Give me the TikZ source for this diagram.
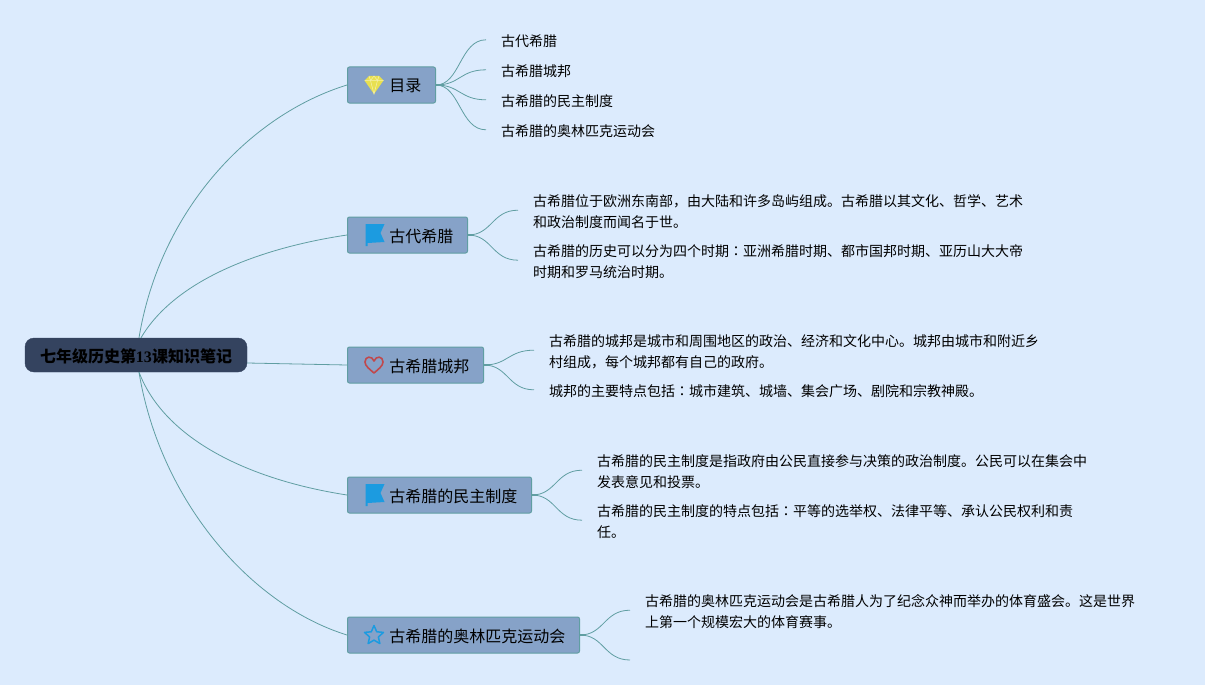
\documentclass[tikz,border=0pt]{standalone}
\usepackage{fontspec}
\setmainfont{Noto Sans CJK SC}
\newfontfamily\digitfont{Liberation Serif}
\newfontfamily\colonfont{Noto Sans CJK TC}
\newcommand{\midcolon}{{\colonfont ：}}
\usetikzlibrary{calc}
\definecolor{figBg}{RGB}{220,235,253}
\definecolor{figBox}{RGB}{134,162,200}
\definecolor{figEdge}{RGB}{96,158,162}
\definecolor{figRoot}{RGB}{52,67,95}
\definecolor{figFlag}{RGB}{28,155,224}
\definecolor{figGem}{RGB}{232,224,80}
\definecolor{figHeart}{RGB}{192,72,76}
\tikzset{
  rootbox/.style={draw=figRoot, fill=figRoot, rounded corners=9pt, minimum width=222pt, minimum height=34pt,
    inner sep=0pt, text height=16pt, text depth=2pt, font=\fontsize{16}{16}\selectfont\bfseries},
  catbox/.style={draw=figEdge, line width=1pt, fill=figBox, rounded corners=2pt, minimum height=36pt, anchor=west,
    inner xsep=14.2pt, inner ysep=0pt, text height=16pt, text depth=2pt, font=\fontsize{16}{16}\selectfont,
    execute at begin node={\hspace*{27.6pt}}},
  leaf/.style={anchor=west, inner xsep=15pt, inner ysep=0pt, align=left, font=\fontsize{14}{21}\selectfont},
  wire/.style={figEdge, line width=0.8pt},
  stub/.style={figEdge, line width=1.5pt},
  pics/gem/.style={code={
    \fill[figGem] (-9.5,-5) -- (-5,-9.5) -- (5,-9.5) -- (9.5,-5) -- (0,8.5) -- cycle;
    \draw[white!55!figGem, line width=0.5pt] (-9.5,-5) -- (9.5,-5) (-5,-9.5) -- (-3.5,-5) -- (0,8.5) -- (3.5,-5) -- (5,-9.5) (-3.5,-5) -- (0,-9.5) -- (3.5,-5);
  }},
  pics/flag/.style={code={
    \fill[figFlag] (-9,-11) -- (10,-11) -- (6,-2) -- (10,7) -- (-7,8) -- (-7,11) -- (-9,11) -- cycle;
  }},
  pics/heart/.style={code={
    \draw[figHeart, line width=1.6pt, line join=round] (0,8) .. controls (-4,4.5) and (-9,1) .. (-9,-3)
      .. controls (-9,-9) and (-2,-9.5) .. (0,-4) .. controls (2,-9.5) and (9,-9) .. (9,-3)
      .. controls (9,1) and (4,4.5) .. (0,8) -- cycle;
  }},
  pics/hollowstar/.style={code={
    \draw[figFlag, line width=1.5pt, line join=round] plot[samples at={0,...,9}] ({-90+36*\x}:{mod(\x,2)==0 ? 10 : 4.6}) -- cycle;
  }},
}
\begin{document}
\begin{tikzpicture}[x=1pt, y=-1pt]
\useasboundingbox[fill=figBg] (0,0) rectangle (1205,685);
% ===== root and the five branch boxes =====
\node[rootbox] (root) at (136,355) {七年级历史第{\digitfont\bfseries 13}课知识笔记};
\node[catbox] (catToc) at (347,85) {目录};
\node[catbox] (catGreece) at (347,235) {古代希腊};
\node[catbox] (catCity) at (347,365) {古希腊城邦};
\node[catbox] (catDemo) at (347,495) {古希腊的民主制度};
\node[catbox] (catGames) at (347,635) {古希腊的奥林匹克运动会};
% icons
\pic at (374,85.5) {gem};
\pic at (374.5,235) {flag};
\pic at (374,365) {heart};
\pic at (374.5,495) {flag};
\pic at (374,635.5) {hollowstar};
% ===== leaves =====
\node[leaf] (tocA) at (486,41.2) {古代希腊};
\node[leaf] (tocB) at (486,71.2) {古希腊城邦};
\node[leaf] (tocC) at (486,101.2) {古希腊的民主制度};
\node[leaf] (tocD) at (486,131.2) {古希腊的奥林匹克运动会};
\node[leaf] (greeceA) at (518,211.6) {古希腊位于欧洲东南部，由大陆和许多岛屿组成。古希腊以其文化、哲学、艺术\\和政治制度而闻名于世。};
\node[leaf] (greeceB) at (518,261.6) {古希腊的历史可以分为四个时期\midcolon 亚洲希腊时期、都市国邦时期、亚历山大大帝\\时期和罗马统治时期。};
\node[leaf] (cityA) at (534,351.6) {古希腊的城邦是城市和周围地区的政治、经济和文化中心。城邦由城市和附近乡\\村组成，每个城邦都有自己的政府。};
\node[leaf] (cityB) at (534,391.2) {城邦的主要特点包括\midcolon 城市建筑、城墙、集会广场、剧院和宗教神殿。};
\node[leaf] (demoA) at (582,471.6) {古希腊的民主制度是指政府由公民直接参与决策的政治制度。公民可以在集会中\\发表意见和投票。};
\node[leaf] (demoB) at (582,521.6) {古希腊的民主制度的特点包括\midcolon 平等的选举权、法律平等、承认公民权利和责\\任。};
\node[leaf] (gamesA) at (630,611.6) {古希腊的奥林匹克运动会是古希腊人为了纪念众神而举办的体育盛会。这是世界\\上第一个规模宏大的体育赛事。};
\coordinate (gamesB) at (630,660);
% ===== connectors from the root =====
\draw[wire] ([xshift=3pt]root.north) .. controls (160,210) and (250,115) .. (catToc.west);
\draw[wire] ([xshift=5pt]root.north) .. controls (175,280) and (260,248) .. (catGreece.west);
\draw[wire] ([yshift=-8pt]root.east) -- (catCity.west);
\draw[wire] ([xshift=3pt]root.south) .. controls (165,440) and (250,480) .. (catDemo.west);
\draw[wire] ([xshift=3pt]root.south) .. controls (160,500) and (250,605) .. (catGames.west);
% ===== connectors from the boxes to the leaves =====
\foreach \from/\to in {catToc/tocA, catToc/tocB, catToc/tocC, catToc/tocD, catGreece/greeceA, catGreece/greeceB,
  catCity/cityA, catCity/cityB, catDemo/demoA, catDemo/demoB, catGames/gamesA}
  \draw[wire] (\from.east) .. controls +(24,0) and +(-26,0) .. ([yshift=1.4pt]\to.west);
\draw[wire] (catGames.east) .. controls +(24,0) and +(-26,0) .. (gamesB);
\foreach \from in {catToc, catGreece, catCity, catDemo, catGames}
  \draw[stub] (\from.east) -- ++(6,0);
\end{tikzpicture}
\end{document}
